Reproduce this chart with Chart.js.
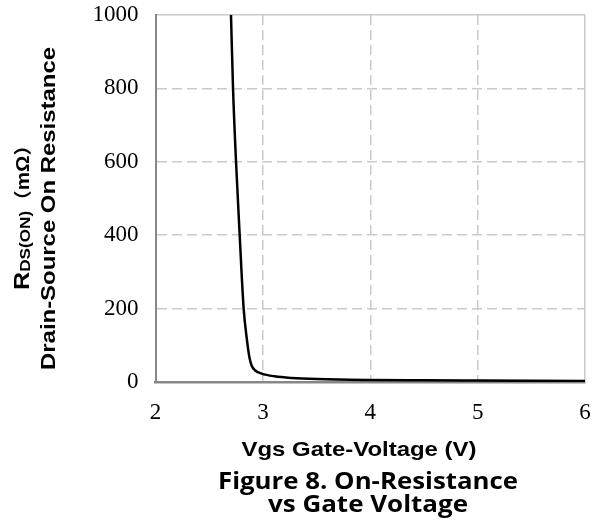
<!DOCTYPE html>
<html>
<head>
<meta charset="utf-8">
<script src="https://cdn.jsdelivr.net/npm/chart.js@4"></script>
<style>
  html, body { margin: 0; padding: 0; background: #fff; }
  #wrap { width: 599px; height: 523px; }
</style>
</head>
<body>
<div id="wrap"><canvas id="chart"></canvas></div>
<script>
// values (Vgs in V, RDS(ON) in mOhm)
const vgs   = [2.703, 2.722, 2.75, 2.784, 2.821, 2.852, 2.874, 2.895, 2.926, 2.989, 3.11, 3.27, 3.51, 4.0, 4.5, 5.0, 5.5, 6.0];
const rdsOn = [1000, 800, 600, 400, 200, 114, 68, 45, 32, 23, 15.5, 11, 8, 5.5, 4.5, 3.8, 3.2, 2.8];
const xTicks = [2, 3, 4, 5, 6];
const yTicks = [0, 200, 400, 600, 800, 1000];

const GRID = '#cacaca';
const AXIS = '#878787';

// draw a run of text pieces squeezed/stretched to a given length
function fitText(ctx, parts, x, y, len, opts) {
  ctx.save();
  let total = 0;
  parts.forEach(p => { ctx.font = p.font; p.w = ctx.measureText(p.t).width; total += p.w; });
  ctx.translate(x, y);
  if (opts.rotate) ctx.rotate(-Math.PI / 2);
  ctx.scale(len / total, 1);
  let cx = opts.center ? -total / 2 : 0;
  ctx.fillStyle = '#000';
  ctx.textBaseline = 'alphabetic';
  ctx.textAlign = 'left';
  parts.forEach(p => {
    ctx.font = p.font;
    ctx.fillText(p.t, cx, p.dy || 0);
    cx += p.w;
  });
  ctx.restore();
}

const titles = {
  id: 'titles',
  afterDraw(chart) {
    const ctx = chart.ctx;
    const sans = '"Liberation Sans", Arial, sans-serif';
    const cjk = '"Noto Sans CJK SC", sans-serif';
    fitText(ctx, [
      { t: 'R', font: 'bold 22px ' + sans },
      { t: 'DS(ON)', font: 'bold 15px ' + sans, dy: 1 },
      { t: '（', font: 'bold 18px ' + cjk },
      { t: 'mΩ', font: 'bold 18px ' + sans },
      { t: '）', font: 'bold 18px ' + cjk }
    ], 28.5, 290, 155, { rotate: true });
    fitText(ctx, [{ t: 'Drain-Source On Resistance', font: 'bold 21px ' + sans }],
      54.5, 370, 323, { rotate: true });
    fitText(ctx, [{ t: 'Vgs Gate-Voltage (V)', font: 'bold 21px ' + sans }],
      359, 456, 235, { center: true });
    const cap = 'bold 24px "Open Sans", "Noto Sans", sans-serif';
    fitText(ctx, [{ t: 'Figure 8. On-Resistance', font: cap }], 368, 489, 300, { center: true });
    fitText(ctx, [{ t: 'vs Gate Voltage', font: cap }], 368, 512, 200, { center: true });
  }
};

const serif = '"Liberation Serif", "Times New Roman", serif';

new Chart(document.getElementById('chart'), {
  type: 'line',
  data: {
    datasets: [{
      data: vgs.map((v, i) => ({ x: v, y: rdsOn[i] })),
      borderColor: '#000',
      borderWidth: 2.5,
      pointRadius: 0,
      cubicInterpolationMode: 'monotone',
      fill: false
    }]
  },
  options: {
    responsive: true,
    maintainAspectRatio: false,
    animation: false,
    layout: { padding: { top: 15, right: 14, left: 0, bottom: 0 } },
    plugins: { legend: { display: false }, tooltip: { enabled: false } },
    scales: {
      x: {
        type: 'linear',
        min: 2, max: 6,
        afterBuildTicks: s => { s.ticks = xTicks.map(v => ({ value: v })); },
        afterFit: s => { s.height = 141; s.paddingLeft = 0; s.paddingRight = 0; },
        grid: {
          drawTicks: false,
          lineWidth: 1.5,
          color: c => (c.tick && c.tick.value === 2) ? 'rgba(0,0,0,0)' : GRID
        },
        border: {
          color: AXIS, width: 2.5,
          dash: c => (c.tick && c.tick.value === 6) ? [] : [10, 5]
        },
        ticks: {
          color: '#000', padding: 17,
          font: { family: serif, size: 23 },
          callback: v => String(v)
        }
      },
      y: {
        type: 'linear',
        min: 0, max: 1000,
        afterBuildTicks: s => { s.ticks = yTicks.map(v => ({ value: v })); },
        afterFit: s => { s.width = 155.5; s.paddingTop = 0; s.paddingBottom = 0; },
        grid: {
          drawTicks: false,
          lineWidth: 1.5,
          color: c => (c.tick && c.tick.value === 0) ? 'rgba(0,0,0,0)' : GRID
        },
        border: {
          color: AXIS, width: 2,
          dash: c => (c.tick && c.tick.value === 1000) ? [] : [10, 5]
        },
        ticks: {
          color: '#000', padding: 17,
          font: { family: serif, size: 23 },
          callback: v => String(v)
        }
      }
    }
  },
  plugins: [titles]
});
</script>
</body>
</html>
